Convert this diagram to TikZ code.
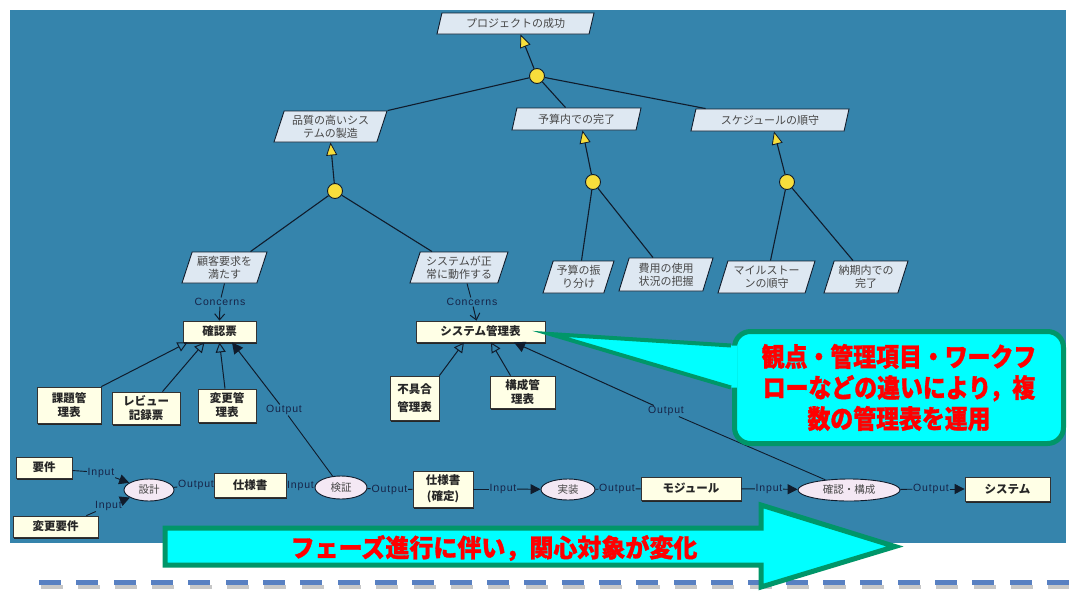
\documentclass[tikz,border=0pt]{standalone}
\usepackage{fontspec}
\setmainfont{Liberation Sans}
\newfontfamily\jp{Noto Sans CJK JP}
\newfontfamily\jpc[FakeStretch=0.88,FakeBold=1.2]{Noto Sans CJK JP}
\newfontfamily\jpd[FakeStretch=0.96,FakeBold=1.2]{Noto Sans CJK JP}
\newfontfamily\labfont[LetterSpace=8]{Liberation Sans}
\usetikzlibrary{shapes.geometric,arrows.meta,shadows,calc}
\definecolor{bg}{RGB}{53,132,172}
\definecolor{pfill}{RGB}{222,232,242}
\definecolor{rfill}{RGB}{255,255,230}
\definecolor{efill}{RGB}{244,232,244}
\definecolor{lnk}{RGB}{16,28,44}
\definecolor{yel}{RGB}{247,222,60}
\definecolor{labc}{RGB}{22,36,72}
\definecolor{cgreen}{RGB}{0,150,105}
\definecolor{dashc}{RGB}{88,128,194}
\definecolor{aqua}{RGB}{0,255,255}
\definecolor{redtxt}{RGB}{255,0,0}
\begin{document}
\begin{tikzpicture}[x=1pt,y=-1pt,
  goalbox/.style={trapezium, trapezium left angle=68, trapezium right angle=112,
    trapezium stretches body=true, draw=lnk, line width=0.9pt, fill=pfill,
    inner sep=1pt, font=\jp\fontsize{11}{13}\selectfont, text=black!72, align=center},
  andnode/.style={circle, draw=lnk, line width=0.9pt, fill=yel, minimum size=15pt, inner sep=0pt},
  rectbox/.style={rectangle, draw=black!80, line width=0.8pt, fill=rfill,
    general shadow={fill=black!85, shadow xshift=1.3pt, shadow yshift=-1.6pt},
    font=\jp\bfseries\fontsize{11.5}{14}\selectfont, text=black!85, align=center, inner sep=1pt},
  procnode/.style={ellipse, draw=lnk, line width=0.9pt, fill=efill, inner sep=0pt,
    font=\jp\fontsize{10.5}{12}\selectfont, text=black!72},
  lab/.style={font=\labfont\fontsize{10.5}{12}\selectfont, text=labc, fill=bg, inner sep=0.6pt},
  tree/.style={draw=lnk, line width=1.1pt},
  treearrow/.style={tree, -{Triangle[length=13pt,width=11pt,fill=yel,line width=0.8pt]}},
  genarrow/.style={draw=lnk, line width=1pt, -{Triangle[open,length=10pt,width=10pt]}},
  outarrow/.style={draw=lnk, line width=1pt, -{Triangle[length=11pt,width=11pt]}},
  concern/.style={draw=lnk, line width=1pt, -{Straight Barb[length=6pt,width=10pt]}},
  ioline/.style={draw=lnk, line width=0.9pt},
  ioarrow/.style={ioline, -{Triangle[length=10pt,width=10pt]}},
  callout/.style={rectangle, rounded corners=16pt, draw=cgreen, line width=5pt, fill=aqua,
    text=redtxt, font=\jpc\bfseries\fontsize{26}{31}\selectfont, align=center},
]
\useasboundingbox (0,0) rectangle (1069,592);
\fill[white] (0,0) rectangle (1069,592);
\fill[bg] (10,10) rectangle (1066,543);

% ---------- goal tree ----------
\node[goalbox, minimum width=157pt, minimum height=21pt] (goal) at (515.5,23.5) {プロジェクトの成功};
\node[andnode] (c1) at (537,76) {};
\node[goalbox, minimum width=113pt, minimum height=31pt] (q) at (330.5,126.5) {品質の高いシス\\テムの製造};
\node[goalbox, minimum width=129pt, minimum height=22pt] (b) at (576.5,119) {予算内での完了};
\node[goalbox, minimum width=158pt, minimum height=22pt] (s) at (770,120) {スケジュールの順守};
\node[andnode] (c2) at (335,191) {};
\node[andnode] (c3) at (593,182) {};
\node[andnode] (c4) at (787,182) {};
\node[goalbox, minimum width=85pt, minimum height=31pt] (k) at (224.5,267.5) {顧客要求を\\満たす};
\node[goalbox, minimum width=98pt, minimum height=31pt] (n) at (459,267.5) {システムが正\\常に動作する};
\node[goalbox, minimum width=71pt, minimum height=32pt] (b1) at (578.5,277) {予算の振\\り分け};
\node[goalbox, minimum width=94pt, minimum height=33pt] (b2) at (666,274.5) {費用の使用\\状況の把握};
\node[goalbox, minimum width=97pt, minimum height=32pt] (s1) at (766.5,277) {マイルストー\\ンの順守};
\node[goalbox, minimum width=84pt, minimum height=32pt] (s2) at (866,277) {納期内での\\完了};

\draw[treearrow] (c1) -- ([xshift=5pt]goal.south);
\draw[tree] (c1) -- (q.top right corner);
\draw[tree] (c1) -- ([xshift=-11pt]b.north);
\draw[tree] (c1) -- ([xshift=10pt]s.top left corner);
\draw[treearrow] (c2) -- (q.south);
\draw[tree] (c2) -- ([xshift=26pt]k.north);
\draw[tree] (c2) -- ([xshift=-27pt]n.north);
\draw[treearrow] (c3) -- ([xshift=6pt]b.south);
\draw[tree] (c3) -- ([xshift=3pt]b1.north);
\draw[tree] (c3) -- ([xshift=-13pt]b2.north);
\draw[treearrow] (c4) -- ([xshift=4pt]s.south);
\draw[tree] (c4) -- ([xshift=4pt]s1.north);
\draw[tree] (c4) -- ([xshift=-13pt]s2.north);

% ---------- management tables ----------
\node[rectbox, minimum width=73pt, minimum height=21pt] (kakunin) at (219.5,331.5) {確認票};
\node[rectbox, minimum width=129pt, minimum height=21pt] (sysk) at (480.5,331.5) {システム管理表};
\node[rectbox, minimum width=64pt, minimum height=36pt] (kadai) at (69,405) {課題管\\理表};
\node[rectbox, minimum width=68pt, minimum height=32pt] (review) at (146,408) {レビュー\\記録票};
\node[rectbox, minimum width=58pt, minimum height=33pt] (henkou) at (227,405.5) {変更管\\理表};
\node[rectbox, minimum width=49pt, minimum height=44pt] (fuguai) at (414.5,398) {不具合\\[4pt]管理表};
\node[rectbox, minimum width=65pt, minimum height=32pt] (kousei) at (522.5,392) {構成管\\理表};

\node[lab] (con1) at (220,302) {Concerns};
\node[lab] (con2) at (472,302) {Concerns};
\draw[ioline] (k.south) -- (con1);
\draw[concern] (con1) -- (kakunin.north);
\draw[ioline] ([xshift=8pt]n.south) -- (con2);
\draw[concern] (con2) -- ([xshift=-4pt]sysk.north);

\draw[genarrow] (kadai.north east) -- ([xshift=-32pt]kakunin.south);
\draw[genarrow] ([xshift=16.5pt]review.north) -- ([xshift=-15pt]kakunin.south);
\draw[genarrow] ([xshift=-2pt]henkou.north) -- (kakunin.south);
\draw[genarrow] (fuguai.north east) -- ([xshift=-16.5pt]sysk.south);
\draw[genarrow] ([xshift=-12pt]kousei.north) -- ([xshift=10.5pt]sysk.south);

% ---------- process row ----------
\node[rectbox, minimum width=56pt, minimum height=21pt] (youken) at (44,467.5) {要件};
\node[rectbox, minimum width=85pt, minimum height=21pt] (henyou) at (55.5,526.5) {変更要件};
\node[procnode, minimum width=50pt, minimum height=22pt] (sekkei) at (149,490) {設計};
\node[rectbox, minimum width=72pt, minimum height=24pt] (shiyou) at (250,485) {仕様書};
\node[procnode, minimum width=52pt, minimum height=23pt] (kenshou) at (341,487.5) {検証};
\node[rectbox, minimum width=60pt, minimum height=36pt] (kakutei) at (443,489) {仕様書\\[2pt](確定)};
\node[procnode, minimum width=54pt, minimum height=21pt] (jissou) at (568,489.5) {実装};
\node[rectbox, minimum width=100pt, minimum height=23pt] (module) at (691,488.5) {モジュール};
\node[procnode, minimum width=102pt, minimum height=22pt] (kakunin2) at (849,490) {確認・構成};
\node[rectbox, minimum width=85pt, minimum height=24pt] (system) at (1007.5,489) {システム};

\node[lab] (inA) at (101,472.5) {Input};
\node[lab] (inB) at (108.5,506) {Input};
\node[lab] (outA) at (196,485) {Output};
\node[lab] (inC) at (300.5,486) {Input};
\node[lab] (outB) at (389.5,489.5) {Output};
\node[lab] (inD) at (503,489) {Input};
\node[lab] (outC) at (617,489) {Output};
\node[lab] (inE) at (769,489) {Input};
\node[lab] (outD) at (931,489) {Output};
\node[lab] (outE) at (284,410) {Output};
\node[lab] (outF) at (666,411) {Output};

\draw[ioline] ([yshift=-3pt]youken.east) -- (inA);
\draw[ioarrow] (inA) -- (sekkei);
\draw[ioline] ([xshift=-12pt]henyou.north east) -- (inB);
\draw[ioarrow] (inB) -- (sekkei);
\draw[ioline] (sekkei) -- (outA);
\draw[ioline] (shiyou) -- (inC);
\draw[ioline] (inC) -- (kenshou);
\draw[ioline] (kenshou) -- (outB);
\draw[ioline] (outB) -- (kakutei);
\draw[ioline] (kakutei) -- (inD);
\draw[ioarrow] (inD) -- (jissou);
\draw[ioline] (jissou) -- (outC);
\draw[ioline] (outC) -- (module);
\draw[ioline] (module) -- (inE);
\draw[ioarrow] (inE) -- (kakunin2);
\draw[ioline] (kakunin2) -- (outD);
\draw[ioarrow] (outD) -- (system);

\draw[ioline] (kenshou) -- (outE);
\draw[outarrow] (outE) -- ([xshift=12.5pt]kakunin.south);
\draw[ioline] (kakunin2) -- (outF);
\draw[outarrow] (outF) -- ([xshift=33.5pt]sysk.south);

% ---------- callout ----------
\node[callout, minimum width=329pt, minimum height=112pt] (callout) at (899,387.5)
  {観点・管理項目・ワークフ\\ローなどの違いにより，複\\数の管理表を運用};
\coordinate (ctip) at (550,334);
\fill[aqua] (ctip) -- ([yshift=42pt]callout.west) -- ([xshift=5pt,yshift=42pt]callout.west)
  -- ([xshift=5pt,yshift=0pt]callout.west) -- ([yshift=0pt]callout.west) -- cycle;
\draw[cgreen, line width=4pt, line join=miter] ([xshift=-1pt,yshift=42pt]callout.west) -- (ctip) -- ([xshift=-1pt]callout.west);

% ---------- dashed separator ----------
\foreach \k in {0,...,27} {
  \fill[black!22] ({40.5+37.33*\k},584.5) rectangle +(22,4);
  \fill[dashc] ({39+37.33*\k},580) rectangle +(22,5);
}

% ---------- phase arrow ----------
\draw[cgreen, line width=5pt, fill=aqua, line join=miter]
  (165,528) -- (761,528) -- (761,505) -- (895,546.5) -- (761,587) -- (761,565) -- (165,565) -- cycle;
\node[text=redtxt, font=\jpd\bfseries\fontsize{25}{28}\selectfont] (phase) at (494,548) {フェーズ進行に伴い，関心対象が変化};
\end{tikzpicture}
\end{document}
